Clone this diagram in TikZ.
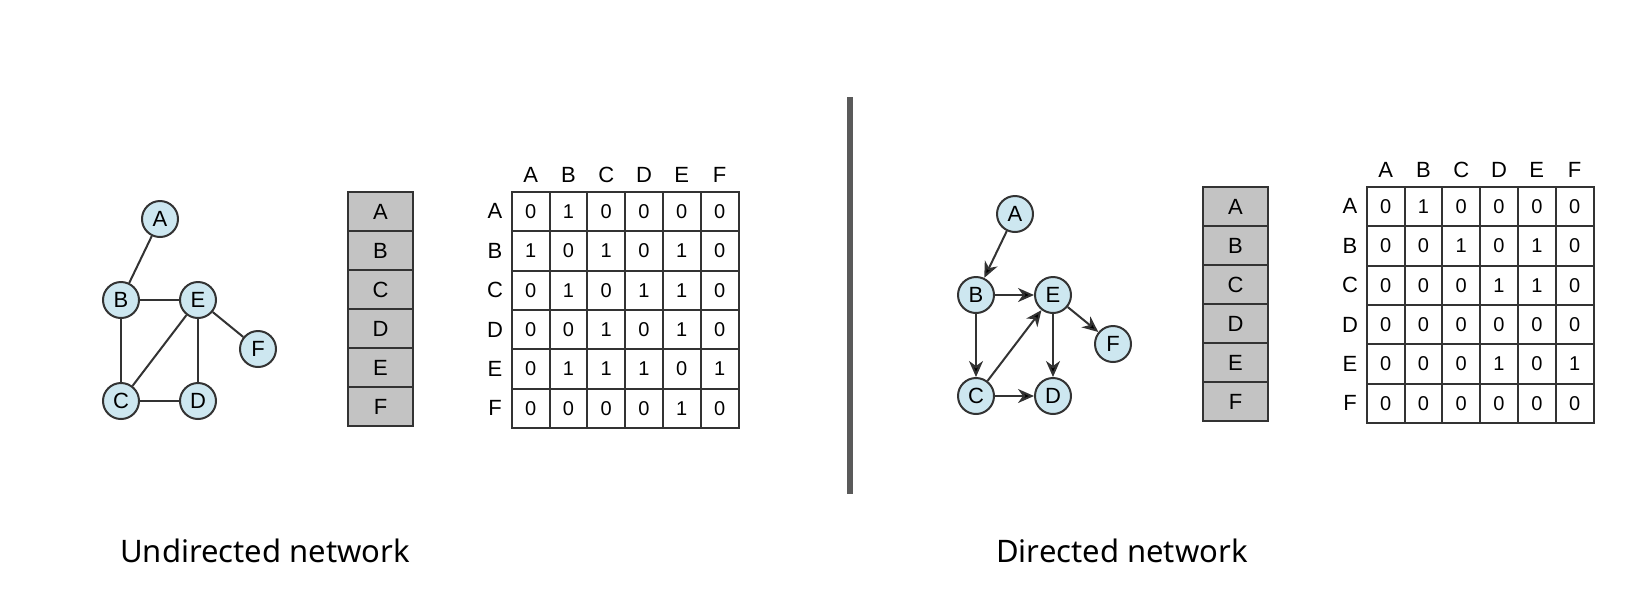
\documentclass[tikz,border=0pt]{standalone}
\usepackage{fontspec}
\setmainfont{Liberation Sans}
\newfontfamily\captionfont{Noto Sans}
\usetikzlibrary{arrows.meta}
\definecolor{nodeblue}{HTML}{CDE7F0}
\definecolor{listgray}{HTML}{C3C3C3}
\definecolor{linegray}{HTML}{333333}
\definecolor{bargray}{HTML}{5A5A5A}
\tikzset{
    %Define standard arrow tip
    >={Stealth[length=8pt,width=7pt,inset=2.5pt]},
    %Define style for graph vertices
    vertex/.style={
           circle,
           draw=linegray, line width=1pt,
           fill=nodeblue,
           minimum size=18pt,
           inner sep=0pt,
           font=\fontsize{11}{12}\selectfont,
           text centered},
    %Define style for the list of vertices
    listcell/.style={
           rectangle,
           draw=linegray, line width=1pt,
           fill=listgray,
           minimum width=32.5pt,
           minimum height=19.5pt,
           inner sep=0pt,
           font=\fontsize{11}{12}\selectfont,
           text centered},
    %Define style for matrix cells
    matcell/.style={
           rectangle,
           draw=linegray, line width=1pt,
           fill=white,
           minimum width=18.9pt,
           minimum height=19.7pt,
           inner sep=0pt,
           font=\fontsize{10}{11}\selectfont,
           text centered},
    matlabel/.style={
           inner sep=0pt,
           font=\fontsize{11}{12}\selectfont},
    netcaption/.style={
           font=\captionfont\fontsize{15.5}{18}\selectfont},
    % Define edge style
    link/.style={
           draw=linegray,
           line width=1pt}
}

\begin{document}
\begin{tikzpicture}[x=0.5pt,y=-0.5pt]
\useasboundingbox (0,0) rectangle (1640,602);

% undirected network
\begin{scope}
\node[vertex] (uA) at (160,219) {A};
\node[vertex] (uB) at (121,300) {B};
\node[vertex] (uE) at (198,300) {E};
\node[vertex] (uF) at (258,349) {F};
\node[vertex] (uC) at (121,401) {C};
\node[vertex] (uD) at (198,401) {D};
\path[link]
	(uA) edge (uB)
	(uB) edge (uE)
	(uB) edge (uC)
	(uC) edge (uE)
	(uC) edge (uD)
	(uE) edge (uD)
	(uE) edge (uF);
\foreach \l [count=\i] in {A,B,C,D,E,F}
	\node[listcell] (ul\l) at (380.5,{192+39*(\i-0.5)}) {\l};
\foreach \l [count=\i] in {A,B,C,D,E,F}{
	\node[matlabel] (uc\l) at ({511.7+37.8*(\i-0.5)},175) {\l};
	\node[matlabel] (ur\l) at (495,{191.7+39.4*(\i-0.5)}) {\l};
}
\foreach \row [count=\i] in {{0,1,0,0,0,0},{1,0,1,0,1,0},{0,1,0,1,1,0},{0,0,1,0,1,0},{0,1,1,1,0,1},{0,0,0,0,1,0}}
	\foreach \v [count=\j] in \row
		\node[matcell] (um\i\j) at ({511.7+37.8*(\j-0.5)},{191.7+39.4*(\i-0.5)}) {\v};
\end{scope}

\draw[bargray, line width=3pt] (850,97) -- (850,494);

% directed network
\begin{scope}[shift={(855,-5)}]
\node[vertex] (dA) at (160,219) {A};
\node[vertex] (dB) at (121,300) {B};
\node[vertex] (dE) at (198,300) {E};
\node[vertex] (dF) at (258,349) {F};
\node[vertex] (dC) at (121,401) {C};
\node[vertex] (dD) at (198,401) {D};
\path[link,->]
	(dA) edge (dB)
	(dB) edge (dE)
	(dB) edge (dC)
	(dC) edge (dE)
	(dC) edge (dD)
	(dE) edge (dD)
	(dE) edge (dF);
\foreach \l [count=\i] in {A,B,C,D,E,F}
	\node[listcell] (dl\l) at (380.5,{192+39*(\i-0.5)}) {\l};
\foreach \l [count=\i] in {A,B,C,D,E,F}{
	\node[matlabel] (dc\l) at ({511.7+37.8*(\i-0.5)},175) {\l};
	\node[matlabel] (dr\l) at (495,{191.7+39.4*(\i-0.5)}) {\l};
}
\foreach \row [count=\i] in {{0,1,0,0,0,0},{0,0,1,0,1,0},{0,0,0,1,1,0},{0,0,0,0,0,0},{0,0,0,1,0,1},{0,0,0,0,0,0}}
	\foreach \v [count=\j] in \row
		\node[matcell] (dm\i\j) at ({511.7+37.8*(\j-0.5)},{191.7+39.4*(\i-0.5)}) {\v};
\end{scope}

\node[netcaption] (ucap) at (265,551) {Undirected network};
\node[netcaption] (dcap) at (1122,551) {Directed network};
\end{tikzpicture}
\end{document}
